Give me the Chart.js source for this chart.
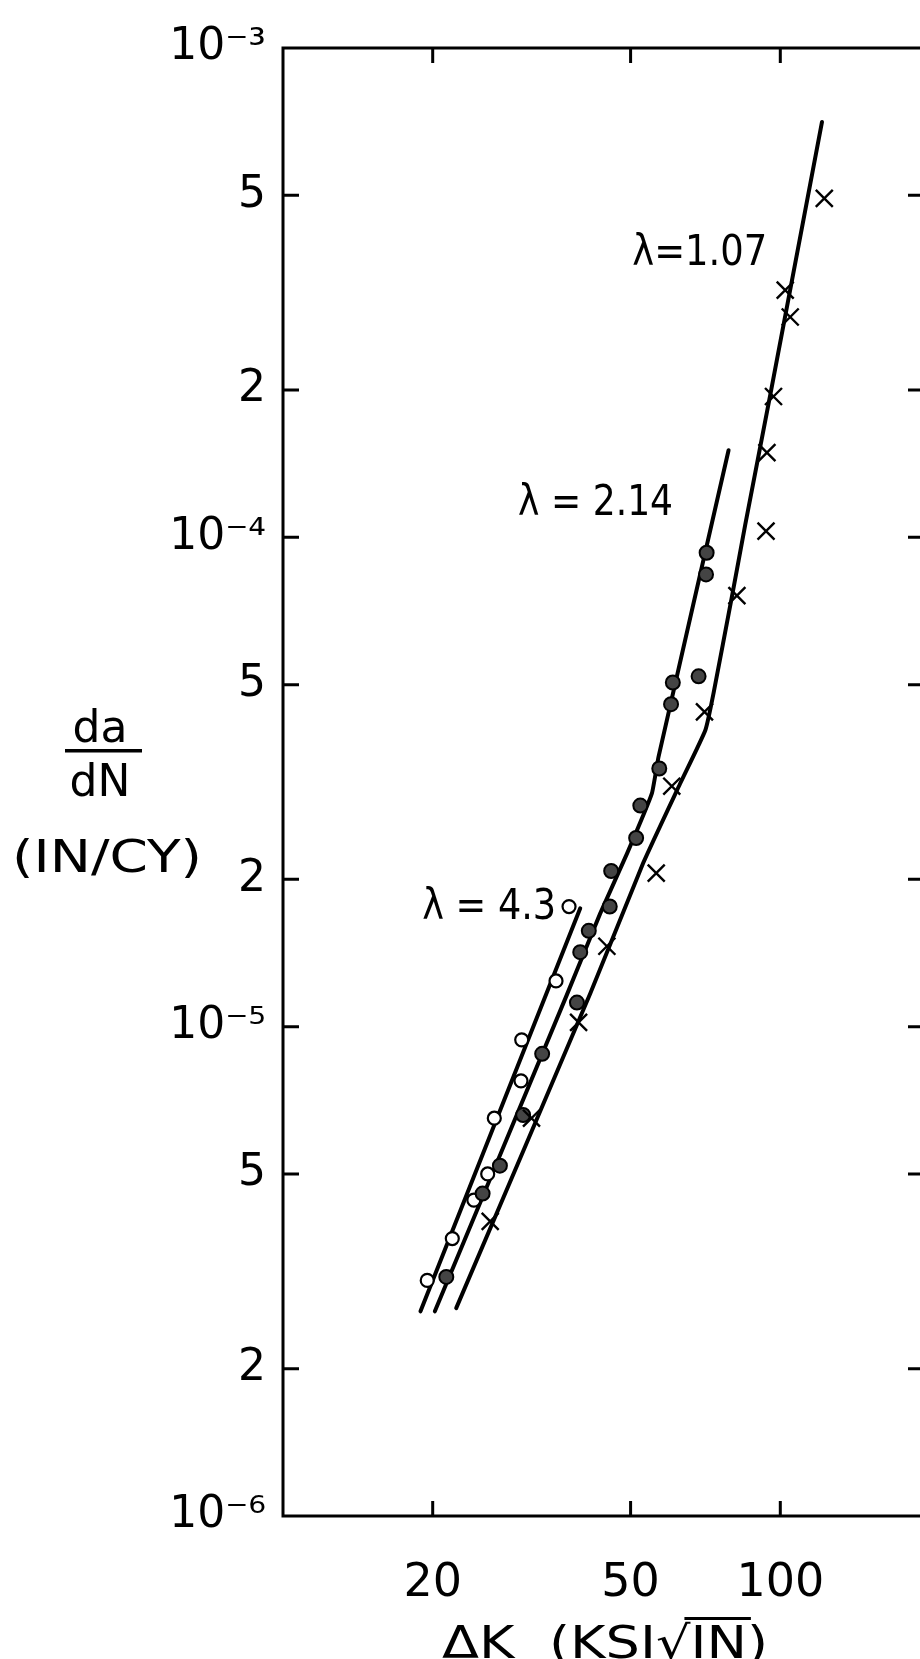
<!DOCTYPE html>
<html lang="en">
<head>
    <meta charset="UTF-8">
    <title>da/dN vs ΔK</title>
    <script src="https://cdn.jsdelivr.net/npm/chart.js"></script>
    <style>
        html, body { margin: 0; padding: 0; background: #fff; overflow: hidden; }
        #wrap { width: 960px; height: 1659px; }
    </style>
</head>
<body>
<div id="wrap"><canvas id="myChart" width="960" height="1659"></canvas></div>

<script>
    // measured points, lambda = 1.07 (crosses)
    const dk107 = [122.6, 102.3, 104.7, 96.9, 94.0, 93.6, 81.8, 70.4, 60.5, 56.3, 44.8, 39.3, 31.6, 26.1];
    const rate107 = [4.93e-4, 3.20e-4, 2.82e-4, 1.94e-4, 1.49e-4, 1.03e-4, 7.6e-5, 4.4e-5, 3.1e-5, 2.06e-5, 1.46e-5, 1.02e-5, 6.5e-6, 4.0e-6];

    // lambda = 2.14 (filled dots)
    const dk214 = [71.1, 70.9, 68.5, 60.8, 60.3, 57.1, 52.3, 51.3, 45.7, 45.4, 41.2, 39.6, 39.0, 33.2, 30.4, 27.3, 25.2, 21.3];
    const rate214 = [9.3e-5, 8.4e-5, 5.2e-5, 5.05e-5, 4.56e-5, 3.37e-5, 2.83e-5, 2.43e-5, 2.08e-5, 1.76e-5, 1.57e-5, 1.42e-5, 1.12e-5, 8.8e-6, 6.6e-6, 5.2e-6, 4.56e-6, 3.08e-6];

    // lambda = 4.3 (open circles)
    const dk43 = [37.6, 35.4, 30.2, 30.1, 26.6, 25.8, 24.2, 21.9, 19.5];
    const rate43 = [1.76e-5, 1.24e-5, 9.4e-6, 7.75e-6, 6.5e-6, 5.0e-6, 4.42e-6, 3.69e-6, 3.03e-6];

    // hand drawn fit curves
    const fitDk107 = [22.3, 41.5, 53.0, 62.9, 70.7, 73.4, 80.0, 85.0, 95.5, 121.3];
    const fitRate107 = [2.66e-6, 1.17e-5, 2.16e-5, 3.14e-5, 4.04e-5, 4.8e-5, 7.6e-5, 1.06e-4, 1.96e-4, 7.06e-4];
    const fitDk214 = [20.2, 37.2, 43.4, 49.2, 55.2, 56.9, 78.7];
    const fitRate214 = [2.62e-6, 1.16e-5, 1.70e-5, 2.26e-5, 3.0e-5, 3.56e-5, 1.506e-4];
    const fitDk43 = [18.9, 39.6];
    const fitRate43 = [2.62e-6, 1.745e-5];

    // axes
    const xTicks = [20, 50, 100];
    const xTickLabels = ['20', '50', '100'];
    const yTicks = [1e-6, 2e-6, 5e-6, 1e-5, 2e-5, 5e-5, 1e-4, 2e-4, 5e-4, 1e-3];
    const yTickLabels = ['10\u207B\u2076', '2', '5', '10\u207B\u2075', '2', '5', '10\u207B\u2074', '2', '5', '10\u207B\u00B3'];

    const seriesNames = ['\u03BB=1.07', '\u03BB = 2.14', '\u03BB = 4.3'];

    const FONT = '"DejaVu Sans", sans-serif';

    const toXY = (xs, ys) => xs.map((v, i) => ({ x: v, y: ys[i] }));

    // draw text scaled horizontally to a given width
    function fitText(ctx, str, x, y, w) {
        const nat = ctx.measureText(str).width;
        ctx.save();
        ctx.translate(x, y);
        ctx.scale(w / nat, 1);
        ctx.fillText(str, 0, 0);
        ctx.restore();
    }

    const framePlugin = {
        id: 'frame',
        afterDraw(chart) {
            const { ctx, chartArea: a, scales: { x, y } } = chart;
            ctx.save();
            ctx.strokeStyle = '#000';
            ctx.fillStyle = '#000';
            ctx.lineWidth = 3;
            ctx.strokeRect(a.left, a.top, a.right - a.left, a.bottom - a.top);

            // inward tick marks on all four sides
            ctx.beginPath();
            yTicks.slice(1, -1).forEach(v => {
                const py = y.getPixelForValue(v);
                ctx.moveTo(a.left, py); ctx.lineTo(a.left + 16, py);
                ctx.moveTo(a.right, py); ctx.lineTo(a.right - 22, py);
            });
            xTicks.forEach(v => {
                const px = x.getPixelForValue(v);
                ctx.moveTo(px, a.bottom); ctx.lineTo(px, a.bottom - 15);
                ctx.moveTo(px, a.top); ctx.lineTo(px, a.top + 15);
            });
            ctx.stroke();

            // series labels
            ctx.font = '42px ' + FONT;
            ctx.textBaseline = 'middle';
            ctx.textAlign = 'left';
            fitText(ctx, seriesNames[0], x.getPixelForValue(50.4), y.getPixelForValue(3.8e-4), 135);
            fitText(ctx, seriesNames[1], x.getPixelForValue(29.7), y.getPixelForValue(1.17e-4), 155);
            fitText(ctx, seriesNames[2], x.getPixelForValue(19.05), y.getPixelForValue(1.75e-5), 134);

            // y title (horizontal fraction)
            ctx.font = '44px ' + FONT;
            ctx.textAlign = 'center';
            ctx.textBaseline = 'alphabetic';
            ctx.fillText('da', 100, 742);
            ctx.fillRect(65, 749, 77, 3.5);
            ctx.fillText('dN', 100, 796);
            ctx.textAlign = 'left';
            fitText(ctx, '(IN/CY)', 12, 872, 190);

            // x title with radical bar over IN
            ctx.font = '45px ' + FONT;
            const pre = '\u0394K  (KSI';
            const title = pre + '\u221AIN)';
            const k = 326 / ctx.measureText(title).width;
            const x0 = 442;
            fitText(ctx, title, x0, 1658, 326);
            const a0 = x0 + k * ctx.measureText(pre + '\u221A').width;
            const a1 = x0 + k * ctx.measureText(pre + '\u221AIN').width;
            ctx.fillRect(a0 - 6, 1617, a1 - a0 + 10, 3);
            ctx.restore();
        }
    };

    const ctx = document.getElementById('myChart').getContext('2d');
    new Chart(ctx, {
        type: 'scatter',
        data: {
            datasets: [
                { label: 'crosses', data: toXY(dk107, rate107), pointStyle: 'crossRot', pointRadius: 12,
                  borderColor: '#000', borderWidth: 2.4, backgroundColor: '#000' },
                { label: 'dots', data: toXY(dk214, rate214), pointStyle: 'circle', pointRadius: 7,
                  borderColor: '#000', borderWidth: 2, backgroundColor: '#444' },
                { label: 'open', data: toXY(dk43, rate43), pointStyle: 'circle', pointRadius: 6.5,
                  borderColor: '#000', borderWidth: 2.2, backgroundColor: '#fff' },
                { label: 'fit107', data: toXY(fitDk107, fitRate107), showLine: true, pointRadius: 0,
                  borderColor: '#000', borderWidth: 4, borderCapStyle: 'round', tension: 0.15 },
                { label: 'fit214', data: toXY(fitDk214, fitRate214), showLine: true, pointRadius: 0,
                  borderColor: '#000', borderWidth: 4, borderCapStyle: 'round', tension: 0.1 },
                { label: 'fit43', data: toXY(fitDk43, fitRate43), showLine: true, pointRadius: 0,
                  borderColor: '#000', borderWidth: 4, borderCapStyle: 'round' }
            ]
        },
        options: {
            responsive: false,
            animation: false,
            events: [],
            layout: { padding: { left: 0, right: 30, top: 48, bottom: 0 } },
            plugins: { legend: { display: false }, tooltip: { enabled: false } },
            scales: {
                x: {
                    type: 'logarithmic', min: 10, max: 200,
                    grid: { display: false, drawTicks: false },
                    border: { display: false },
                    afterBuildTicks: s => { s.ticks = xTicks.map(v => ({ value: v })); },
                    afterFit: s => { s.height = 143; },
                    ticks: {
                        color: '#000', padding: 40, maxRotation: 0, autoSkip: false,
                        font: { family: FONT, size: 46 },
                        callback: v => xTickLabels[xTicks.indexOf(v)]
                    }
                },
                y: {
                    type: 'logarithmic', min: 1e-6, max: 1e-3,
                    grid: { display: false, drawTicks: false },
                    border: { display: false },
                    afterBuildTicks: s => { s.ticks = yTicks.map(v => ({ value: v })); },
                    afterFit: s => { s.width = 283; },
                    ticks: {
                        color: '#000', padding: 17, autoSkip: false,
                        font: { family: FONT, size: 44 },
                        callback: v => yTickLabels[yTicks.indexOf(v)]
                    }
                }
            }
        },
        plugins: [framePlugin]
    });
</script>
</body>
</html>
